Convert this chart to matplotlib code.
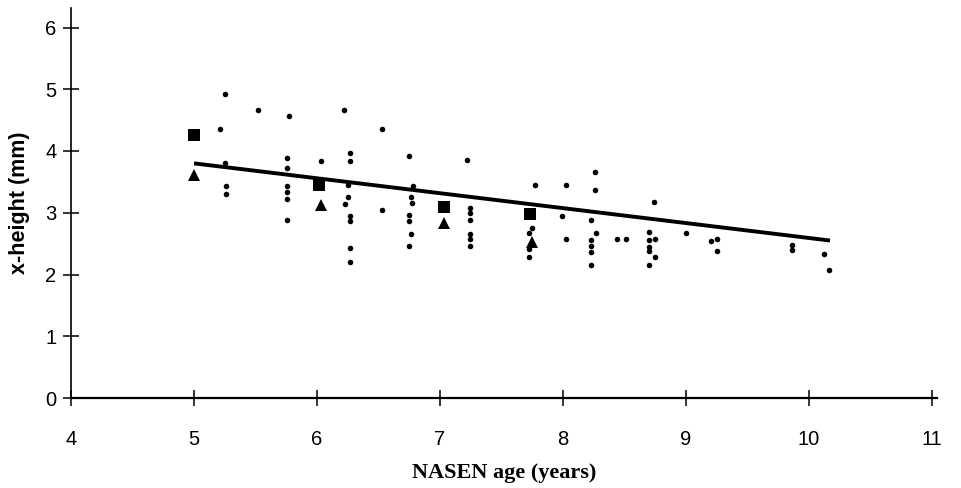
import matplotlib
matplotlib.use("Agg")
import matplotlib.pyplot as plt

# Individual data points (small dots)
age = [5.25, 5.52, 5.77, 5.21, 5.76, 6.03, 5.25, 5.76, 5.26, 5.26, 5.76, 5.76, 5.76, 5.76,
       6.22, 6.53, 6.27, 6.27, 6.75, 7.22, 6.25, 6.25, 6.23, 6.27, 6.27, 6.27, 6.27, 6.53,
       6.78, 6.76, 6.77, 6.75, 6.75, 6.76, 6.75,
       7.24, 7.24, 7.24, 7.24, 7.24, 7.24,
       7.77, 8.02, 8.26, 8.26, 7.99, 8.23, 7.75, 7.72, 7.72, 7.72, 8.02, 8.27, 8.23, 8.23,
       8.23, 8.23, 8.44, 8.51,
       8.74, 8.70, 8.70, 8.75, 8.70, 8.70, 8.75, 8.70, 9.00, 9.20, 9.25, 9.25, 9.86, 9.86,
       10.12, 10.16]
xheight = [4.92, 4.66, 4.56, 4.35, 3.89, 3.83, 3.81, 3.73, 3.43, 3.31, 3.43, 3.33, 3.22, 2.89,
           4.67, 4.36, 3.97, 3.84, 3.92, 3.85, 3.45, 3.26, 3.14, 2.95, 2.86, 2.43, 2.20, 3.05,
           3.44, 3.25, 3.15, 2.96, 2.87, 2.65, 2.46,
           3.07, 2.99, 2.89, 2.65, 2.57, 2.46,
           3.45, 3.45, 3.66, 3.37, 2.95, 2.88, 2.75, 2.67, 2.42, 2.28, 2.57, 2.67, 2.56, 2.46,
           2.37, 2.15, 2.58, 2.57,
           3.17, 2.69, 2.56, 2.58, 2.44, 2.38, 2.28, 2.15, 2.68, 2.55, 2.58, 2.38, 2.48, 2.39,
           2.34, 2.08]

# Group means (squares) and second series (triangles)
sq_age = [5.0, 6.02, 7.03, 7.73]
sq_val = [4.26, 3.45, 3.09, 2.98]
tri_age = [5.0, 6.03, 7.03, 7.75]
tri_val = [3.61, 3.13, 2.84, 2.53]

# Regression line end points
line_age = [5.0, 10.17]
line_val = [3.80, 2.55]

xticks = [4, 5, 6, 7, 8, 9, 10, 11]
yticks = [0, 1, 2, 3, 4, 5, 6]

fig = plt.figure(figsize=(9.61, 4.88), dpi=100)
ax = fig.add_axes([71/961, (488-398)/488, (937-71)/961, (398-27.5)/488 * 6.32/6.0])

ax.plot(line_age, line_val, color='black', lw=2.8, solid_capstyle='butt', zorder=2)
ax.plot(age, xheight, 'o', color='black', ms=4.0, mew=0, zorder=3)
ax.plot(sq_age, sq_val, 's', color='black', ms=9, mew=0, zorder=4)
ax.plot(tri_age, tri_val, '^', color='black', ms=8.5, mew=0, zorder=4)

ax.set_xlim(4, 11.04)
ax.set_ylim(0, 6.32)
ax.set_xticks(xticks)
ax.set_yticks(yticks)
for s in ['top', 'right']:
    ax.spines[s].set_visible(False)
ax.spines['left'].set_linewidth(1.2)
ax.spines['bottom'].set_linewidth(1.6)
ax.tick_params(axis='x', direction='inout', length=12, width=1.1, pad=17,
               labelsize=14.5)
ax.tick_params(axis='y', direction='inout', length=11, width=1.1, pad=5,
               labelsize=14.5)
for lab in ax.get_xticklabels() + ax.get_yticklabels():
    lab.set_family('Liberation Sans')

ax.set_ylabel('x-height (mm)', family='Liberation Sans', fontweight='bold',
              fontsize=15.5, labelpad=11)
ax.set_xlabel('NASEN age (years)', family='Liberation Serif', fontweight='bold',
              fontsize=16, labelpad=10)

fig.savefig('out.png', dpi=100)
